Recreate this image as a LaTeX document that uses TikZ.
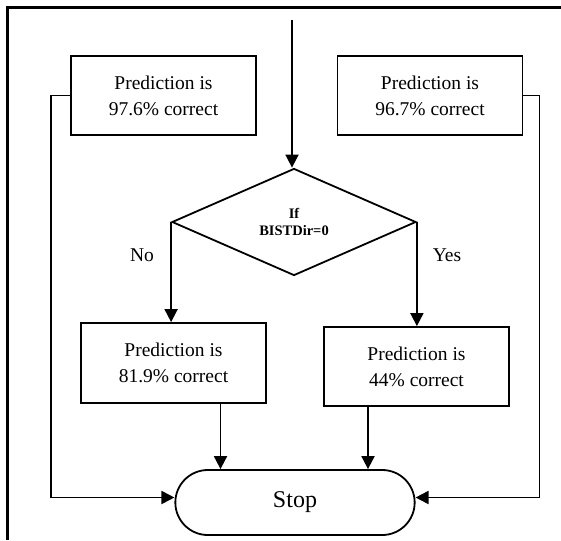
\documentclass[tikz,border=0pt]{standalone}
\usepackage{fontspec}
\setmainfont{Liberation Serif}
\usetikzlibrary{arrows.meta,shapes.geometric,shapes.misc}

\begin{document}
\begin{tikzpicture}[x=1pt,y=-1pt,
    box/.style={draw,line width=1.8pt,inner sep=0pt,align=center,
        minimum width=185pt,minimum height=79pt,
        font=\fontsize{19.5}{26}\selectfont},
    flow/.style={line width=1.8pt,-{Triangle[length=13pt,width=13pt]}},
    lbl/.style={font=\fontsize{19.5}{26}\selectfont}]

\useasboundingbox (0,0) rectangle (561,540);

% frame
\draw[line width=3pt] (7.5,540) -- (7.5,7.5) -- (561,7.5);

\coordinate (in) at (292,20);

\node[draw,diamond,line width=1.8pt,minimum width=244pt,minimum height=107pt,
    inner sep=0pt,align=center,font=\fontsize{14.5}{16.7}\bfseries\selectfont]
    (dec) at (294,222) {If\\BISTDir=0};

\node[box] (p1) at (163.5,95.5) {Prediction is\\97.6\% correct};
\node[box] (p2) at (430,95.5) {Prediction is\\96.7\% correct};
\node[box,minimum height=80pt] (p3) at (173.5,363) {Prediction is\\81.9\% correct};
\node[box] (p4) at (416.5,366.5) {Prediction is\\44\% correct};

\node[draw,rounded rectangle,line width=1.8pt,minimum width=246pt,minimum height=65pt,
    font=\fontsize{24}{28}\selectfont] (stop) at (295,502.5) {Stop};

\node[lbl] (no) at (142,255) {No};
\node[lbl] (yes) at (447,255) {Yes};

\draw[flow] (in) -- (in |- dec.north);
\draw[flow] (dec.west) -- (dec.west |- p3.north);
\draw[flow] (dec.east) -- (dec.east |- p4.north);

\draw[flow] ([xshift=47pt]p3.south) -- ([xshift=47pt]p3.south |- stop.north);
\draw[flow] ([xshift=-48.5pt]p4.south) -- ([xshift=-48.5pt]p4.south |- stop.north);

\draw[flow] (p1.west) -- ++(-19,0) |- ([yshift=5pt]stop.west);
\draw[flow] (p2.east) -- ++(16,0) |- ([yshift=5pt]stop.east);

\end{tikzpicture}
\end{document}
